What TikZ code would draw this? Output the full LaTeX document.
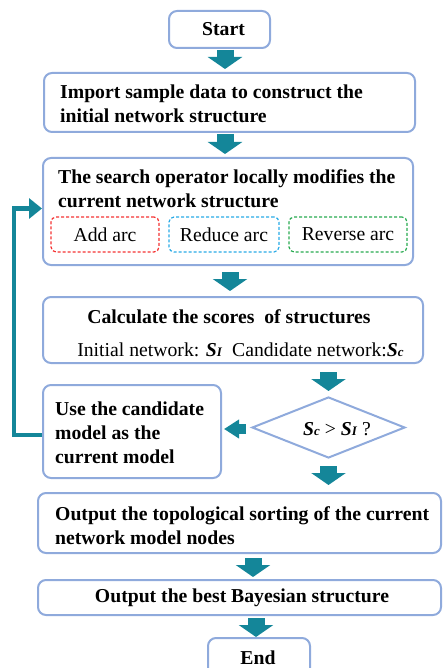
\documentclass[tikz,border=0pt]{standalone}
\usepackage{fontspec}
\setmainfont{Liberation Serif}
\usetikzlibrary{arrows.meta,shapes.geometric}
\definecolor{boxblue}{RGB}{143,170,220}
\definecolor{arrowteal}{RGB}{20,134,153}
\definecolor{opred}{RGB}{245,50,50}
\definecolor{opblue}{RGB}{40,170,230}
\definecolor{opgreen}{RGB}{40,170,80}
\newcommand\scoreI{\textbf{\textit{S}}{\fontsize{13}{13}\selectfont\textbf{\textit{I}}}}
\newcommand\scoreC{\textbf{\textit{S}}{\fontsize{13}{13}\selectfont\textbf{\textit{c}}}}
\begin{document}
\begin{tikzpicture}[x=1pt,y=-1pt,
  font=\fontsize{19.7}{24}\selectfont,
  box/.style={draw=boxblue, line width=2pt, rounded corners=8pt, inner sep=0pt, font=\fontsize{19.7}{24}\selectfont\bfseries},
  txt/.style={inner sep=0pt, align=left, anchor=north west, font=\fontsize{19.7}{24}\selectfont\bfseries},
  opbox/.style={draw=#1, line width=1.2pt, dash pattern=on 3pt off 2pt, rounded corners=5pt, minimum height=35pt, inner sep=0pt},
  flow/.style={draw=arrowteal, line width=17pt, -{Triangle[width=34pt,length=12pt]}},
  flowside/.style={draw=arrowteal, line width=10pt, -{Triangle[width=18pt,length=15pt]}},
  back/.style={draw=arrowteal, line width=4pt, -{Triangle[width=20pt,length=13pt]}}
]
\clip (0,0) rectangle (442,668);
\useasboundingbox (0,0) rectangle (442,668);

% boxes
\node[box, minimum width=101pt, minimum height=37pt] (start) at (219.5,29.5) {\hspace*{8pt}Start};
\node[box, minimum width=371pt, minimum height=59pt] (import) at (229.5,102.5) {};
\node[txt] (importtxt) at (60,85) {Import sample data to construct the\\initial network structure};

\node[box, minimum width=370pt, minimum height=107pt] (search) at (228,211.5) {};
\node[txt] (searchtxt) at (58,169) {The search operator locally modifies the\\current network structure};
\node[opbox=opred, minimum width=108pt] (add) at (105,234.5) {Add arc};
\node[opbox=opblue, minimum width=110pt] (reduce) at (224,234.5) {Reduce arc};
\node[opbox=opgreen, minimum width=118pt] (reverse) at (348,234.5) {Reverse arc};

\node[box, minimum width=380pt, minimum height=66pt] (calc) at (233,330) {};
\node[inner sep=0pt, anchor=base, font=\fontsize{19.7}{24}\selectfont\bfseries] (calctitle) at (229,323) {Calculate the scores \ of structures};
\node[inner sep=0pt, anchor=base] (calcscores) at (240.5,356) {Initial network: \scoreI\ \ Candidate network:\scoreC};

\node[box, minimum width=178pt, minimum height=93pt] (use) at (132,431.5) {};
\node[txt] (usetxt) at (55,402) {Use the candidate\\model as the\\current model};

\node[draw=boxblue, line width=2pt, shape=diamond, aspect=2.5, minimum width=153pt, minimum height=61pt, inner sep=0pt] (dia) at (328.5,427.5) {};
\node[inner sep=0pt] (cond) at (337,429) {\scoreC\ > \scoreI\ ?};

\node[box, minimum width=403pt, minimum height=60pt] (topo) at (239.5,523) {};
\node[txt] (topotxt) at (55,506) {Output the topological sorting of the current\\network model nodes};

\node[box, minimum width=403pt, minimum height=35pt] (best) at (239.5,597.5) {\hspace*{5pt}Output the best Bayesian structure};
\node[box, minimum width=102pt, minimum height=42pt] (end) at (259,659) {};
\node[inner sep=0pt, anchor=base, font=\fontsize{19.7}{24}\selectfont\bfseries] (endtxt) at (258,664.5) {End};

% arrow x positions
\coordinate (x1) at (225,0);
\coordinate (x3) at (230,0);
\coordinate (x6) at (253,0);
\coordinate (x7) at (256,0);
\coordinate (fbx) at (14,0);

\draw[flow, shorten <=1pt, shorten >=3pt] (start.south -| x1) -- (import.north -| x1);
\draw[flow, shorten <=1pt, shorten >=3pt] (import.south -| x1) -- (search.north -| x1);
\draw[flow, shorten <=6pt, shorten >=5pt] (search.south -| x3) -- (calc.north -| x3);
\draw[flow, shorten <=8pt, shorten >=5pt] (calc.south -| dia.north) -- (dia.north);
\draw[flow, shorten <=7pt, shorten >=7pt] (dia.south) -- (topo.north -| dia.south);
\draw[flow, shorten <=4pt, shorten >=2pt] (topo.south -| x6) -- (best.north -| x6);
\draw[flow, shorten <=2pt, shorten >=0pt] (best.south -| x7) -- (end.north -| x7);
\draw[flowside, shorten <=5pt, shorten >=2pt] ([yshift=-1.5pt]dia.west) -- ([yshift=-1.5pt]dia.west -| use.east);
\draw[back] ([yshift=-3pt]use.west) -- ([yshift=-3pt]use.west -| fbx) |- ([yshift=3pt]search.west);
\end{tikzpicture}
\end{document}
